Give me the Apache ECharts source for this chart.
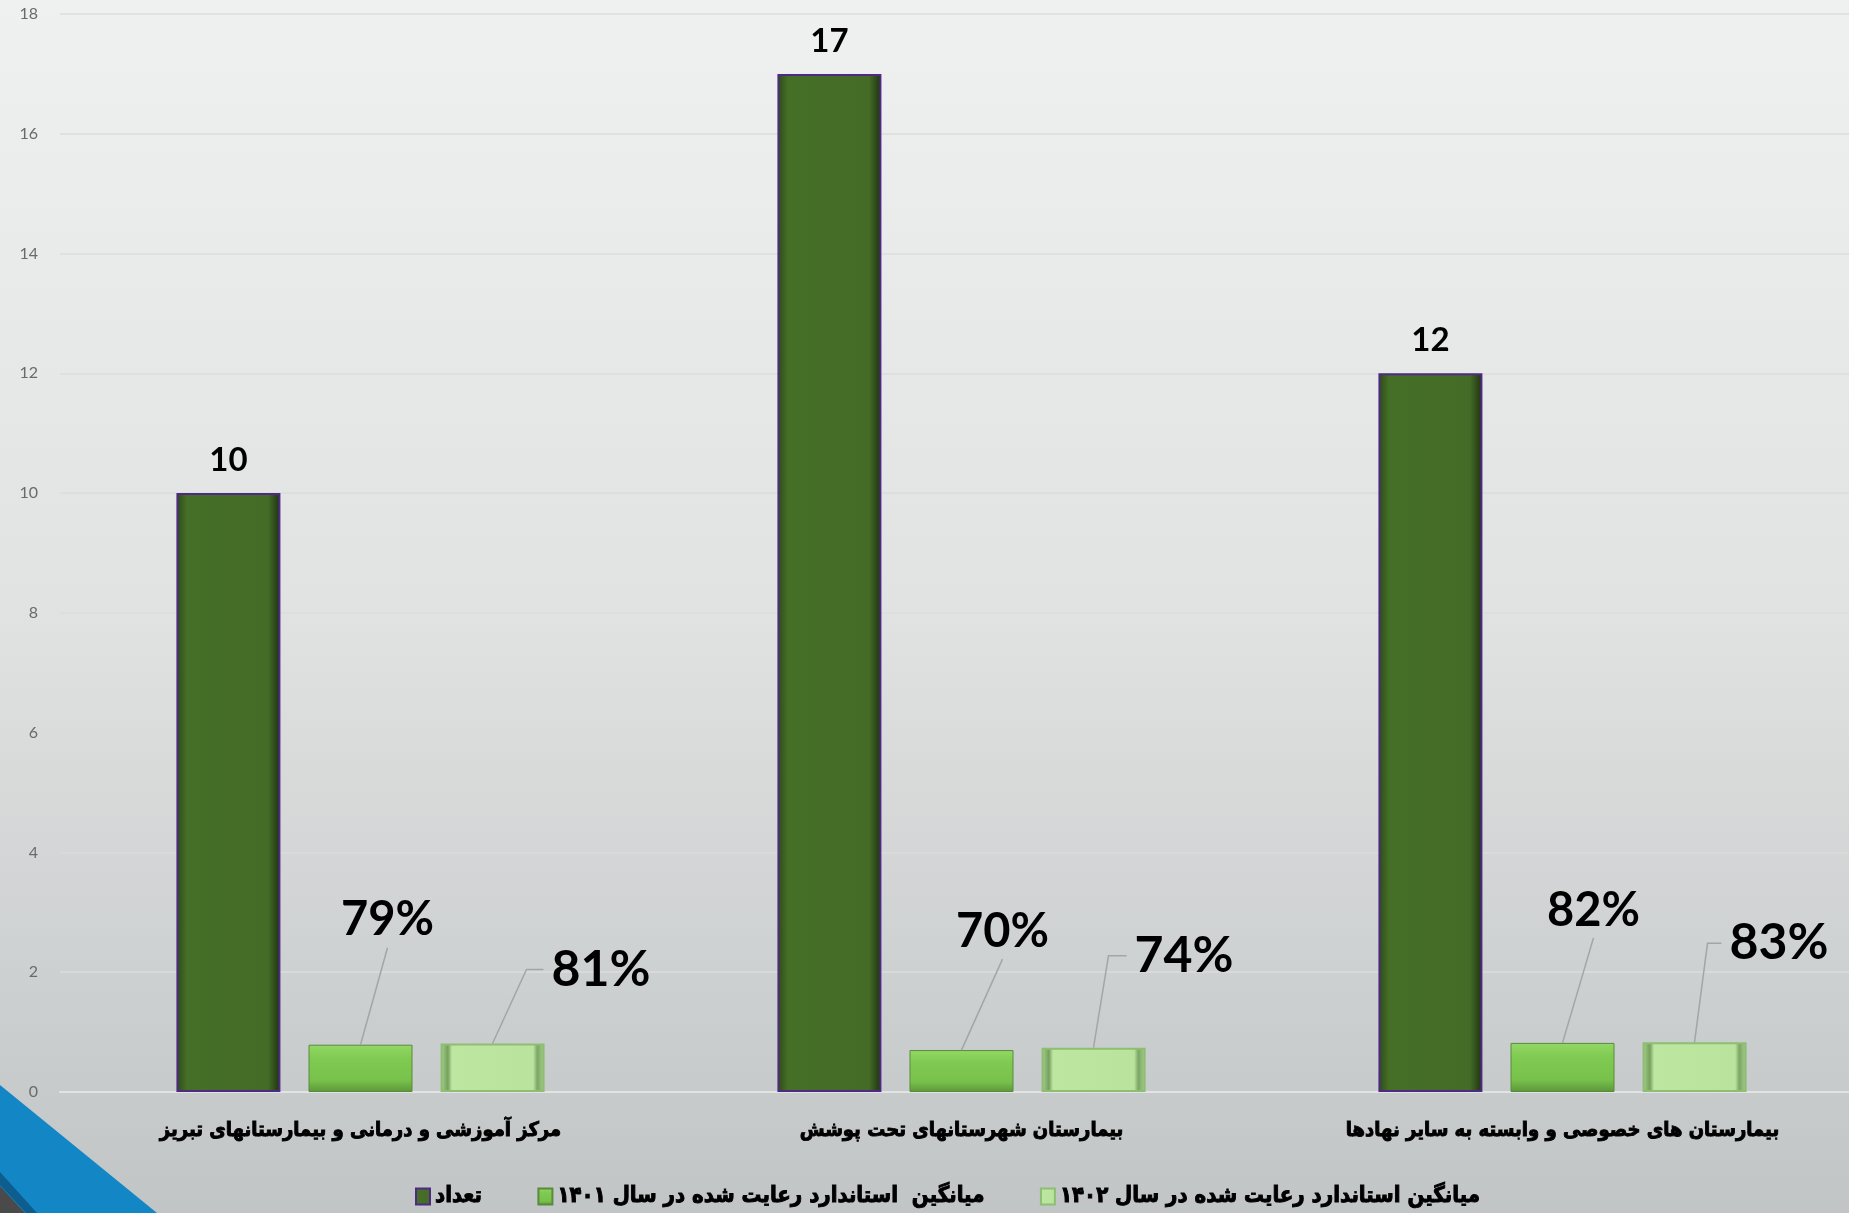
<!DOCTYPE html>
<html>
<head>
<meta charset="utf-8">
<script src="https://cdn.jsdelivr.net/npm/echarts@6/dist/echarts.min.js"></script>
<style>
html, body { margin: 0; padding: 0; }
#main { width: 1849px; height: 1213px; }
</style>
</head>
<body>
<div id="main"></div>
<script>
// داده‌ها
var categories = [
  'مرکز آموزشی و درمانی و بیمارستانهای تبریز',
  'بیمارستان شهرستانهای تحت پوشش',
  'بیمارستان های خصوصی و وابسته به سایر نهادها'
]
var seriesNames = [
  'تعداد',
  'میانگین  استاندارد رعایت شده در سال ۱۴۰۱',
  'میانگین استاندارد رعایت شده در سال ۱۴۰۲'
]
var countData = [10, 17, 12]
var avg1401 = [0.79, 0.70, 0.82]
var avg1402 = [0.81, 0.74, 0.83]
var yTicks = { min: 0, max: 18, interval: 2 }

// leader line offsets (px, from the bar top centre)
var line2End = [[27, -97], [41, -91], [31, -105]]
var line3Mid = [[34, -74], [15, -92], [13, -99]]
var line3End = [[51, -74], [33, -92], [27, -99]]

var barWidth = 104
var barStep = 132
var persianFont = "'DejaVu Sans Condensed', 'DejaVu Sans', sans-serif"
var numFont = "Lato, 'Open Sans', sans-serif"

function pct (p) {
  return Math.round(p.value * 100) + '%'
}

// خط راهنما برای برچسب درصدها
function leaderSeries (values, shift, mids, ends) {
  return {
    type: 'custom',
    silent: true,
    z: 3,
    data: values.map(function (v, i) { return [i, v] }),
    renderItem: function (params, api) {
      var i = params.dataIndex
      var top = api.coord([api.value(0), api.value(1)])
      var x0 = top[0] + shift
      var y0 = top[1]
      var pts = [[x0, y0]]
      if (mids) pts.push([x0 + mids[i][0], y0 + mids[i][1]])
      pts.push([x0 + ends[i][0], y0 + ends[i][1]])
      return {
        type: 'polyline',
        shape: { points: pts },
        style: { stroke: '#A3A5A6', lineWidth: 1.5, fill: null }
      }
    }
  }
}

var myChart = echarts.init(document.getElementById('main'))
var option = {
  animation: false,
  backgroundColor: {
    type: 'linear', x: 0, y: 0, x2: 0, y2: 1,
    colorStops: [
      { offset: 0, color: '#EFF0F0' },
      { offset: 0.5, color: '#E1E2E2' },
      { offset: 1, color: '#C1C5C6' }
    ]
  },
  graphic: [
    {
      type: 'polygon', z: 0,
      shape: { points: [[0, 1085], [157, 1213], [0, 1213]] },
      style: { fill: '#1386C6' }
    },
    {
      type: 'polygon', z: 1,
      shape: { points: [[0, 1172], [37, 1213], [26, 1213], [0, 1185]] },
      style: { fill: '#0D5D8E' }
    },
    {
      type: 'polygon', z: 1,
      shape: { points: [[0, 1186], [25, 1213], [0, 1213]] },
      style: { fill: '#4A4A4A' }
    }
  ],
  grid: {
    left: 60,
    width: 1803,
    top: 14,
    bottom: 121,
    containLabel: false,
    outerBoundsMode: 'none'
  },
  legend: {
    data: seriesNames,
    bottom: 0,
    left: 410,
    itemGap: 55,
    itemWidth: 14,
    itemHeight: 16,
    icon: 'rect',
    textStyle: {
      fontFamily: persianFont,
      fontWeight: 'bold',
      fontSize: 22,
      color: '#000',
      textBorderColor: '#000',
      textBorderWidth: 0.9
    }
  },
  xAxis: {
    type: 'category',
    data: categories,
    axisTick: { show: false },
    axisLine: { lineStyle: { color: '#E2E3E3', width: 2 } },
    axisLabel: {
      margin: 29,
      fontFamily: persianFont,
      fontWeight: 'bold',
      fontSize: 20,
      color: '#000',
      textBorderColor: '#000',
      textBorderWidth: 0.9
    }
  },
  yAxis: {
    type: 'value',
    min: yTicks.min,
    max: yTicks.max,
    interval: yTicks.interval,
    axisLine: { show: false },
    axisTick: { show: false },
    splitLine: { lineStyle: { color: '#DBDCDC', width: 1.5 } },
    axisLabel: {
      margin: 22,
      fontFamily: numFont,
      fontSize: 16,
      color: '#6A6A6A'
    }
  },
  series: [
    {
      name: seriesNames[0],
      type: 'bar',
      data: countData,
      barWidth: barWidth,
      barGap: '27%',
      itemStyle: {
        color: {
          type: 'linear', x: 0, y: 0, x2: 1, y2: 0,
          colorStops: [
            { offset: 0, color: '#2C4A19' },
            { offset: 0.1, color: '#456E27' },
            { offset: 0.88, color: '#446C27' },
            { offset: 1, color: '#1C300F' }
          ]
        },
        borderColor: '#4E2A84',
        borderWidth: 2
      },
      label: {
        show: true,
        position: 'top',
        distance: 16,
        fontFamily: numFont,
        fontWeight: 'bold',
        fontSize: 33,
        color: '#000'
      }
    },
    {
      name: seriesNames[1],
      type: 'bar',
      data: avg1401,
      barWidth: barWidth,
      itemStyle: {
        color: {
          type: 'linear', x: 0, y: 0, x2: 0, y2: 1,
          colorStops: [
            { offset: 0, color: '#92D865' },
            { offset: 0.3, color: '#7FCA51' },
            { offset: 0.75, color: '#78C24B' },
            { offset: 1, color: '#5C963A' }
          ]
        },
        borderColor: '#5A8A3C',
        borderWidth: 1
      },
      label: {
        show: true,
        formatter: pct,
        fontFamily: numFont,
        fontWeight: 'bold',
        fontSize: 47,
        color: '#000'
      },
      labelLayout: function (p) {
        var i = p.dataIndex
        var cx = p.rect.x + p.rect.width / 2
        return {
          x: cx + line2End[i][0],
          y: p.rect.y + line2End[i][1] - 4,
          align: 'center',
          verticalAlign: 'bottom'
        }
      }
    },
    {
      name: seriesNames[2],
      type: 'bar',
      data: avg1402,
      barWidth: barWidth,
      itemStyle: {
        color: {
          type: 'linear', x: 0, y: 0, x2: 1, y2: 0,
          colorStops: [
            { offset: 0, color: '#A9D68C' },
            { offset: 0.07, color: '#759F5E' },
            { offset: 0.11, color: '#BDE6A1' },
            { offset: 0.89, color: '#BAE39E' },
            { offset: 0.93, color: '#7CA666' },
            { offset: 1, color: '#A7D38B' }
          ]
        },
        borderColor: '#8DBE72',
        borderWidth: 2
      },
      label: {
        show: true,
        formatter: pct,
        fontFamily: numFont,
        fontWeight: 'bold',
        fontSize: 50,
        color: '#000'
      },
      labelLayout: function (p) {
        var i = p.dataIndex
        var cx = p.rect.x + p.rect.width / 2
        return {
          x: cx + line3End[i][0] + 8,
          y: p.rect.y + line3End[i][1],
          align: 'left',
          verticalAlign: 'middle'
        }
      }
    },
    leaderSeries(avg1401, 0, null, line2End),
    leaderSeries(avg1402, barStep, line3Mid, line3End)
  ]
}
myChart.setOption(option)
window.onresize = myChart.resize
</script>
</body>
</html>
